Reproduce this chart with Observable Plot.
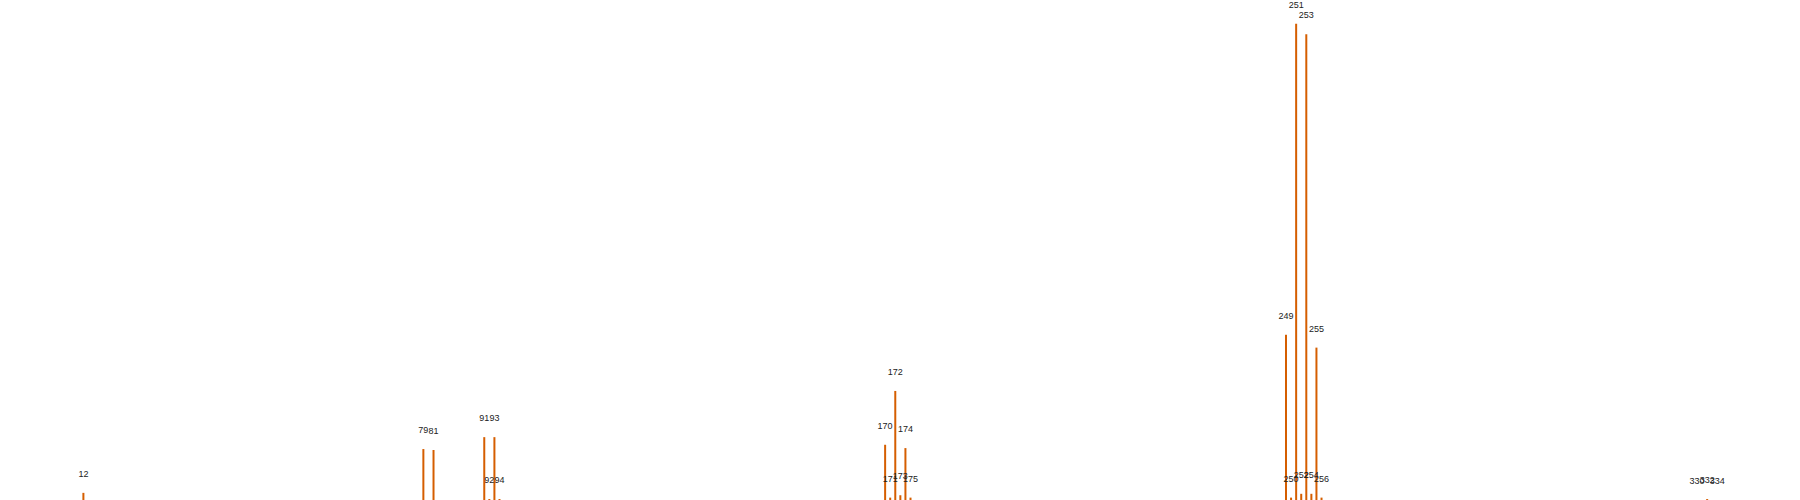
<!DOCTYPE html>
<html>
<head>
<meta charset="utf-8">
<script src="https://cdn.jsdelivr.net/npm/d3@7"></script>
<script src="https://cdn.jsdelivr.net/npm/@observablehq/plot@0.6"></script>
<style>
  html, body { margin: 0; padding: 0; background: #fff; }
  #chart svg { display: block; }
</style>
</head>
<body>
<div id="chart"></div>
<script>
const mz = [12, 79, 81, 91, 92, 93, 94, 170, 171, 172, 173, 174, 175, 249, 250, 251, 252, 253, 254, 255, 256, 330, 332, 334];
const intensity = [1.5, 10.7, 10.5, 13.2, 0.2, 13.2, 0.2, 11.6, 0.5, 22.9, 1.0, 10.9, 0.5, 34.7, 0.5, 100, 1.3, 97.8, 1.3, 32.0, 0.5, 0, 0.2, 0];

const data = mz.map((m, i) => ({mz: m, intensity: intensity[i]}));

const chart = Plot.plot({
  width: 1800,
  height: 500,
  marginLeft: 22,
  marginRight: 2,
  marginTop: 0,
  marginBottom: 0,
  style: {background: "#fff", fontFamily: "Liberation Sans, Arial, sans-serif"},
  x: {domain: [0, 350], axis: null},
  y: {domain: [0, 105], axis: null},
  marks: [
    Plot.ruleX(data.filter(d => d.intensity > 0), {x: "mz", y1: 0, y2: "intensity", stroke: "#d55e00", strokeWidth: 2}),
    Plot.text(data, {x: "mz", y: "intensity", text: d => String(d.mz), dy: -19.5, fontSize: 9, fill: "#222"})
  ]
});
document.getElementById("chart").appendChild(chart);
</script>
</body>
</html>
